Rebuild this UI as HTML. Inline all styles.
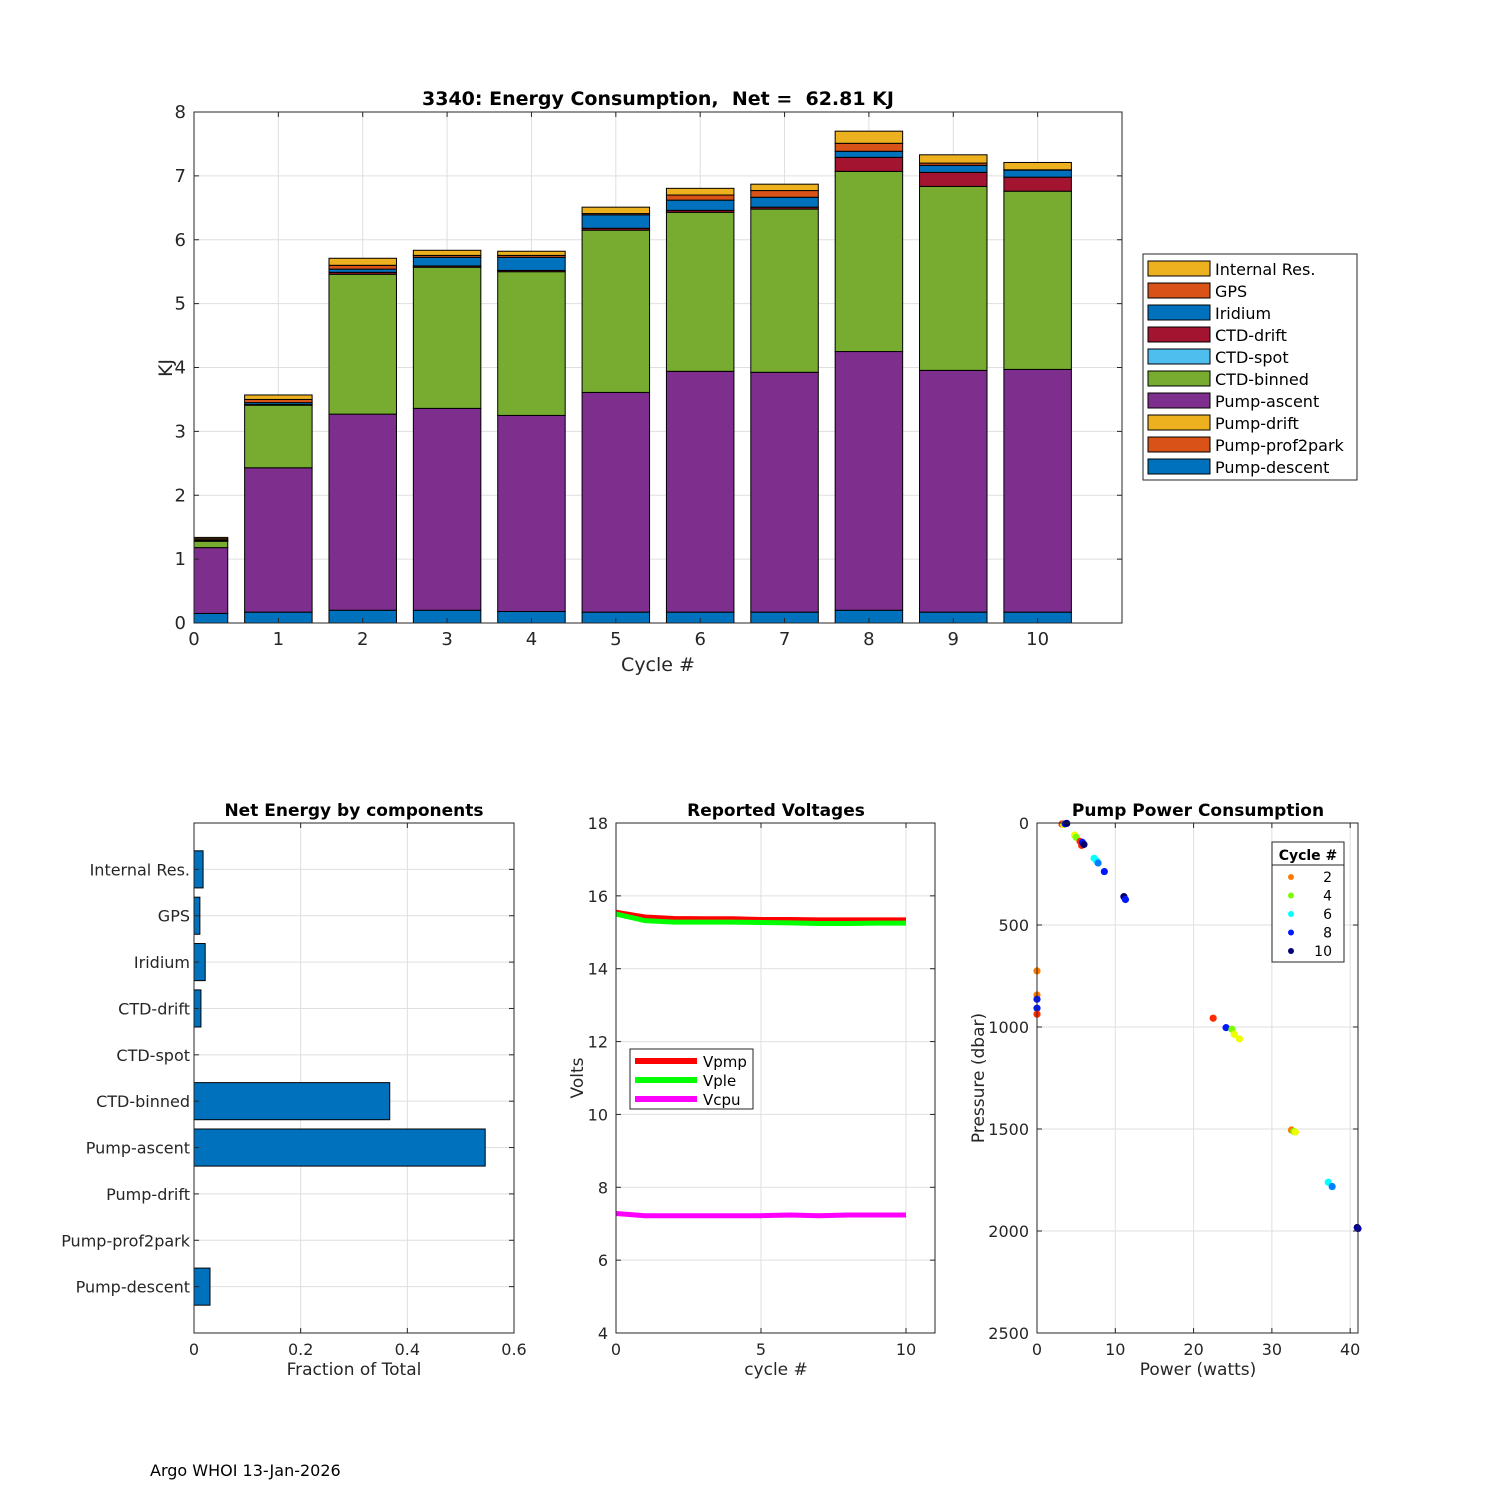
<!DOCTYPE html>
<html><head><meta charset="utf-8"><style>
html,body{margin:0;padding:0;background:#fff;}
svg{display:block;font-family:"DejaVu Sans","Liberation Sans",sans-serif;}
</style></head><body>
<svg id="fig" width="1500" height="1500" viewBox="0 0 1500 1500" xmlns="http://www.w3.org/2000/svg">
<rect width="1500" height="1500" fill="#fff"/>
<g id="top"></g>
<g id="frac"></g>
<g id="volt"></g>
<g id="pump"></g>
<text x="150" y="1476" font-size="16" fill="#000">Argo WHOI 13-Jan-2026</text>
</svg>
<script>
// ---------- data ----------
const cycles = [0,1,2,3,4,5,6,7,8,9,10];
const compNames = ["Pump-descent","Pump-prof2park","Pump-drift","Pump-ascent","CTD-binned","CTD-spot","CTD-drift","Iridium","GPS","Internal Res."];
const compColors = ["#0072BD","#D95319","#EDB120","#7E2F8E","#77AC30","#4DBEEE","#A2142F","#0072BD","#D95319","#EDB120"];
const pumpDescent  = [0.15,0.17,0.20,0.20,0.18,0.17,0.17,0.17,0.20,0.17,0.17];
const pumpProf2park= [0,0,0,0,0,0,0,0,0,0,0];
const pumpDrift    = [0,0,0,0,0,0,0,0,0,0,0];
const pumpAscent   = [1.03,2.26,3.07,3.16,3.07,3.44,3.77,3.755,4.05,3.785,3.80];
const ctdBinned    = [0.10,0.98,2.19,2.21,2.25,2.54,2.49,2.555,2.82,2.88,2.79];
const ctdSpot      = [0,0,0,0,0,0,0,0,0,0,0];
const ctdDrift     = [0.01,0.01,0.03,0.02,0.02,0.03,0.03,0.03,0.22,0.22,0.22];
const iridium      = [0.01,0.03,0.05,0.135,0.205,0.21,0.16,0.155,0.095,0.11,0.11];
const gps          = [0.02,0.05,0.06,0.03,0.03,0.02,0.08,0.105,0.125,0.035,0.005];
const internalRes  = [0.02,0.07,0.11,0.08,0.065,0.10,0.105,0.10,0.19,0.13,0.115];
const topYTicks = [0,1,2,3,4,5,6,7,8];
const topXTicks = [0,1,2,3,4,5,6,7,8,9,10];

const fracNames = ["Pump-descent","Pump-prof2park","Pump-drift","Pump-ascent","CTD-binned","CTD-spot","CTD-drift","Iridium","GPS","Internal Res."];
const fracValues = [0.030,0,0,0.546,0.367,0,0.013,0.021,0.011,0.017];
const fracXTicks = [0,0.2,0.4,0.6];

const voltCycles = [0,1,2,3,4,5,6,7,8,9,10];
const vpmp = [15.55,15.42,15.38,15.37,15.37,15.35,15.35,15.34,15.34,15.34,15.34];
const vple = [15.50,15.32,15.28,15.28,15.28,15.27,15.26,15.24,15.24,15.25,15.25];
const vcpu = [7.28,7.22,7.22,7.22,7.22,7.22,7.24,7.22,7.24,7.24,7.24];
const voltYTicks = [4,6,8,10,12,14,16,18];
const voltXTicks = [0,5,10];

const ptPower    = [3.2,3.4,3.6,3.8,4.8,5.0,5.5,5.7,5.8,6.0,7.3,7.6,7.8,8.6,11.1,11.3,0,0,0,0,0,22.5,24.15,24.9,25.2,25.85,32.5,32.8,33.0,37.2,37.7,40.9,41.0];
const ptPressure = [5,8,4,2,59,70,90,110,95,105,173,185,196,238,361,375,725,843,864,908,937,957,1003,1011,1036,1058,1505,1512,1515,1761,1782,1983,1988];
const ptCycle    = [1,3,8,10,3,4,1,1,8,10,6,6,7,8,10,8,2,2,8,8,1,1,8,4,3,3,2,4,3,6,7,10,9];
const cycleColors = ["#ff2a00","#ff7a00","#eeff00","#7aff00","#00ff9a","#00ffff","#0080ff","#0018ff","#0000b8","#000070"];
const pumpXTicks = [0,10,20,30,40];
const pumpYTicks = [0,500,1000,1500,2000,2500];

const NS = "http://www.w3.org/2000/svg";
function mk(parent, tag, attrs, text){
  const e = document.createElementNS(NS, tag);
  for (const k in attrs) e.setAttribute(k, attrs[k]);
  if (text !== undefined) e.textContent = text;
  parent.appendChild(e);
  return e;
}
const TXT = "#262626";

function frame(g, L, T, R, B, xs, ys, xt, yt){
  for (const v of xt){ const x = xs(v);
    const l = mk(g,'line',{x1:x,x2:x,y1:T,y2:B,stroke:'#dfdfdf','stroke-width':1});
      }
  for (const v of yt){ const y = ys(v);
    const l = mk(g,'line',{x1:L,x2:R,y1:y,y2:y,stroke:'#dfdfdf','stroke-width':1});
      }
}
function box(g, L, T, R, B, xs, ys, xt, yt, xfmt, yfmt, fs, ygap){
  const b = mk(g,'rect',{x:L,y:T,width:R-L,height:B-T,fill:'none',stroke:'#262626','stroke-width':1});
   
  for (const v of xt){ const x = xs(v);
    mk(g,'line',{x1:x,x2:x,y1:B,y2:B-5,stroke:'#262626'});
    mk(g,'line',{x1:x,x2:x,y1:T,y2:T+5,stroke:'#262626'});
    const t = mk(g,'text',{x:x,y:B+22,'font-size':fs,'text-anchor':'middle',fill:TXT}, xfmt(v));
      }
  for (const v of yt){ const y = ys(v);
    mk(g,'line',{x1:L,x2:L+5,y1:y,y2:y,stroke:'#262626'});
    mk(g,'line',{x1:R,x2:R-5,y1:y,y2:y,stroke:'#262626'});
    const t = mk(g,'text',{x:L-(ygap||8),y:y+6,'font-size':fs,'text-anchor':'end',fill:TXT}, yfmt(v));
      }
}

// ---------- top stacked bar ----------
(function(){
  const g = document.getElementById('top');
  const L=194,T=112,R=1122,B=623;
  const xs = v => L + v*(R-L)/11;
  const ys = v => B - v*(B-T)/8;
  frame(g,L,T,R,B,xs,ys,topXTicks,topYTicks);
  const series = [pumpDescent,pumpProf2park,pumpDrift,pumpAscent,ctdBinned,ctdSpot,ctdDrift,iridium,gps,internalRes];
  for (let i=0;i<cycles.length;i++){
    let base = 0;
    for (let s=0;s<series.length;s++){
      const v = series[s][i];
      if (v<=0) continue;
      let x0 = xs(cycles[i]-0.4), x1 = xs(cycles[i]+0.4);
      if (x0 < L) x0 = L;
      const r = mk(g,'rect',{x:x0,y:ys(base+v),width:x1-x0,height:ys(base)-ys(base+v),fill:compColors[s],stroke:'#000','stroke-width':1});
      
      
      base += v;
    }
  }
  box(g,L,T,R,B,xs,ys,topXTicks,topYTicks,v=>String(v),v=>String(v),18);
  const t = mk(g,'text',{x:658,y:105,'font-size':19,'font-weight':'bold','text-anchor':'middle',fill:'#000',style:'white-space:pre'},'3340: Energy Consumption,  Net =  62.81 KJ');
   
  const xl = mk(g,'text',{x:658,y:671,'font-size':19,'text-anchor':'middle',fill:TXT},'Cycle #');
   
  const yl = mk(g,'text',{x:172,y:368,'font-size':19,'text-anchor':'middle',fill:TXT,transform:'rotate(-90 172 368)'},'KJ');
   
  const lg = mk(g,'g',{});
   
  mk(lg,'rect',{x:1143,y:254,width:214,height:226,fill:'#fff',stroke:'#262626'});
  for (let k=0;k<10;k++){
    const s = 9-k; const y = 261 + k*22;
    const e = mk(lg,'g',{});
     
    mk(e,'rect',{x:1148,y:y,width:62,height:15,fill:compColors[s],stroke:'#000'});
    mk(e,'text',{x:1215,y:y+14,'font-size':16,fill:'#000'},compNames[s]);
  }
})();

// ---------- fraction horizontal bar ----------
(function(){
  const g = document.getElementById('frac');
  const L=194,T=823,R=514,B=1333;
  const xs = v => L + v*(R-L)/0.6;
  const ys = v => B - v*(B-T)/11;
  const yt = [1,2,3,4,5,6,7,8,9,10];
  frame(g,L,T,R,B,xs,ys,fracXTicks,yt);
  for (let i=0;i<fracValues.length;i++){
    const v = fracValues[i]; if (v<=0) continue;
    const r = mk(g,'rect',{x:xs(0),y:ys(i+1+0.4),width:xs(v)-xs(0),height:ys(i+1-0.4)-ys(i+1+0.4),fill:'#0072BD',stroke:'#000','stroke-width':1});
    
    
  }
  box(g,L,T,R,B,xs,ys,fracXTicks,yt,v=>String(v),v=>fracNames[v-1],16,4);
  const t = mk(g,'text',{x:354,y:816,'font-size':17,'font-weight':'bold','text-anchor':'middle',fill:'#000'},'Net Energy by components');
   
  const xl = mk(g,'text',{x:354,y:1375,'font-size':17,'text-anchor':'middle',fill:TXT},'Fraction of Total');
   
})();

// ---------- voltages ----------
(function(){
  const g = document.getElementById('volt');
  const L=616,T=823,R=935,B=1333;
  const xs = v => L + v*(R-L)/11;
  const ys = v => B - (v-4)*(B-T)/14;
  frame(g,L,T,R,B,xs,ys,voltXTicks,voltYTicks);
  const sets = [[vpmp,'#ff0000','Vpmp'],[vple,'#00ff00','Vple'],[vcpu,'#ff00ff','Vcpu']];
  for (const [arr,col,nm] of sets){
    const d = arr.map((v,i)=>(i?'L':'M')+xs(voltCycles[i])+','+ys(v)).join(' ');
    const p = mk(g,'path',{d:d,fill:'none',stroke:col,'stroke-width':5});
    
    
  }
  box(g,L,T,R,B,xs,ys,voltXTicks,voltYTicks,v=>String(v),v=>String(v),16);
  const lg = mk(g,'g',{});
   
  mk(lg,'rect',{x:630,y:1049,width:123,height:60,fill:'#fff',stroke:'#262626'});
  sets.forEach(([a,col,nm],k)=>{
    const y = 1061 + k*19;
    mk(lg,'line',{x1:635,x2:697,y1:y,y2:y,stroke:col,'stroke-width':6});
    mk(lg,'text',{x:703,y:y+6,'font-size':15,fill:'#000'},nm);
  });
  const t = mk(g,'text',{x:776,y:816,'font-size':17,'font-weight':'bold','text-anchor':'middle',fill:'#000'},'Reported Voltages');
   
  const xl = mk(g,'text',{x:776,y:1375,'font-size':17,'text-anchor':'middle',fill:TXT},'cycle #');
   
  const yl = mk(g,'text',{x:583,y:1078,'font-size':17,'text-anchor':'middle',fill:TXT,transform:'rotate(-90 583 1078)'},'Volts');
   
})();

// ---------- pump power ----------
(function(){
  const g = document.getElementById('pump');
  const L=1037,T=823,R=1358,B=1333;
  const xs = v => L + v*(R-L)/41;
  const ys = v => T + v*(B-T)/2500;
  frame(g,L,T,R,B,xs,ys,pumpXTicks,pumpYTicks);
  for (let i=0;i<ptPower.length;i++){
    const c = mk(g,'circle',{cx:xs(ptPower[i]),cy:ys(ptPressure[i]),r:3.6,fill:cycleColors[ptCycle[i]-1]});
    
    
  }
  box(g,L,T,R,B,xs,ys,pumpXTicks,pumpYTicks,v=>String(v),v=>String(v),16);
  const lg = mk(g,'g',{});
   
  mk(lg,'rect',{x:1272,y:842,width:72,height:120,fill:'#fff',stroke:'#262626'});
  mk(lg,'line',{x1:1272,x2:1344,y1:865,y2:865,stroke:'#262626'});
  mk(lg,'text',{x:1308,y:860,'font-size':14,'font-weight':'bold','text-anchor':'middle',fill:'#000'},'Cycle #');
  [2,4,6,8,10].forEach((cy,k)=>{
    const y = 877 + k*18.5;
    mk(lg,'circle',{cx:1291,cy:y,r:3,fill:cycleColors[cy-1]});
    mk(lg,'text',{x:1332,y:y+5,'font-size':14,'text-anchor':'end',fill:'#000'},String(cy));
  });
  const t = mk(g,'text',{x:1198,y:816,'font-size':17,'font-weight':'bold','text-anchor':'middle',fill:'#000'},'Pump Power Consumption');
   
  const xl = mk(g,'text',{x:1198,y:1375,'font-size':17,'text-anchor':'middle',fill:TXT},'Power (watts)');
   
  const yl = mk(g,'text',{x:984,y:1078,'font-size':17,'text-anchor':'middle',fill:TXT,transform:'rotate(-90 984 1078)'},'Pressure (dbar)');
   
})();
</script>
</body></html>
